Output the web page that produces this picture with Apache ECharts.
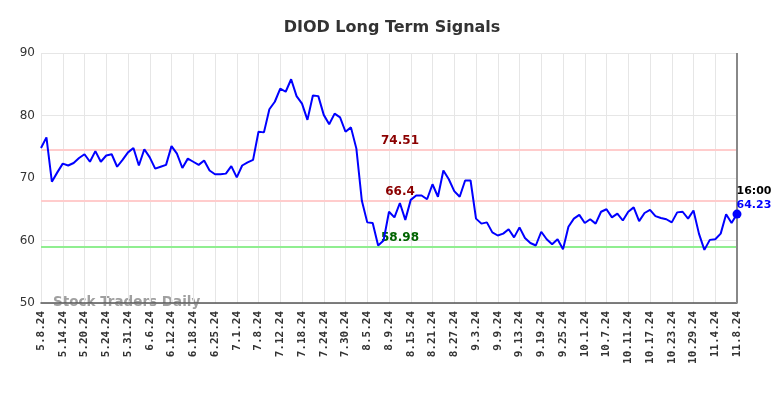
<!DOCTYPE html>
<html>
<head>
<meta charset="utf-8">
<script src="https://cdn.jsdelivr.net/npm/echarts@6/dist/echarts.min.js"></script>
<style>
  html, body { margin: 0; padding: 0; background: #fff; }
  #chart { width: 784px; height: 398px; }
</style>
</head>
<body>
<div id="chart"></div>
<script>
// tick labels, one every 4 trading days
const tickLabels = [
  '5.8.24', '5.14.24', '5.20.24', '5.24.24', '5.31.24', '6.6.24', '6.12.24', '6.18.24',
  '6.25.24', '7.1.24', '7.8.24', '7.12.24', '7.18.24', '7.24.24', '7.30.24', '8.5.24',
  '8.9.24', '8.15.24', '8.21.24', '8.27.24', '9.3.24', '9.9.24', '9.13.24', '9.19.24',
  '9.25.24', '10.1.24', '10.7.24', '10.11.24', '10.17.24', '10.23.24', '10.29.24', '11.4.24',
  '11.8.24'
];

// daily closes
const closes = [
  74.8, 76.5, 69.4, 70.9, 72.3, 72.0, 72.4, 73.2, 73.8, 72.6,
  74.3, 72.6, 73.6, 73.8, 71.8, 72.9, 74.1, 74.8, 72.0, 74.6,
  73.3, 71.5, 71.8, 72.1, 75.1, 73.9, 71.6, 73.1, 72.6, 72.1,
  72.8, 71.2, 70.6, 70.6, 70.7, 71.9, 70.1, 72.0, 72.5, 72.9,
  77.4, 77.3, 81.0, 82.2, 84.3, 83.8, 85.8, 83.1, 81.9, 79.3,
  83.2, 83.1, 80.1, 78.6, 80.3, 79.7, 77.4, 78.1, 74.7, 66.4,
  62.9, 62.8, 59.2, 60.0, 64.6, 63.7, 66.0, 63.3, 66.5, 67.2,
  67.2, 66.6, 69.0, 67.0, 71.2, 69.8, 67.9, 67.0, 69.6, 69.6,
  63.5, 62.7, 62.9, 61.3, 60.8, 61.1, 61.8, 60.5, 62.1, 60.4,
  59.6, 59.2, 61.4, 60.2, 59.4, 60.2, 58.6, 62.2, 63.5, 64.1,
  62.8, 63.4, 62.7, 64.6, 65.0, 63.7, 64.3, 63.2, 64.6, 65.3,
  63.1, 64.4, 64.9, 63.9, 63.6, 63.4, 62.9, 64.5, 64.6, 63.5,
  64.8, 61.1, 58.5, 60.1, 60.2, 61.1, 64.2, 62.8, 64.23
];

const resistance = [74.51, 66.4];
const support = [58.98];
const lastTime = '16:00';

const categories = closes.map((_, i) => String(i));
const lastIdx = closes.length - 1;

const chart = echarts.init(document.getElementById('chart'));

const levelLines = [
  ...resistance.map(v => ({
    yAxis: v,
    lineStyle: { color: '#ffcccc', width: 2, type: 'solid' },
    label: { color: '#8b0000' }
  })),
  ...support.map(v => ({
    yAxis: v,
    lineStyle: { color: '#90ee90', width: 2, type: 'solid' },
    label: { color: '#006400' }
  }))
];

chart.setOption({
  animation: false,
  backgroundColor: '#fff',
  title: {
    text: 'DIOD Long Term Signals',
    left: 'center',
    top: 15,
    textStyle: { fontFamily: 'DejaVu Sans', fontSize: 16, fontWeight: 'bold', color: '#333' }
  },
  grid: { left: 41, right: 47, top: 53, bottom: 95 },
  xAxis: {
    type: 'category',
    data: categories,
    boundaryGap: false,
    axisLine: { lineStyle: { color: '#555', width: 1.5 } },
    axisTick: { show: false },
    axisLabel: {
      interval: 3,
      rotate: 90,
      margin: 8,
      fontFamily: 'DejaVu Sans Mono',
      fontWeight: 'bold',
      fontSize: 11,
      color: '#333',
      formatter: (v, i) => tickLabels[i / 4] || ''
    },
    splitLine: { show: true, interval: 3, lineStyle: { color: '#e6e6e6', width: 1 } }
  },
  yAxis: {
    type: 'value',
    min: 50,
    max: 90,
    interval: 10,
    axisLine: { show: false },
    axisTick: { show: false },
    axisLabel: { fontFamily: 'DejaVu Sans', fontSize: 12, color: '#333', margin: 6 },
    splitLine: { lineStyle: { color: '#e6e6e6', width: 1 } }
  },
  graphic: [{
    type: 'text',
    left: 53,
    top: 295,
    style: {
      text: 'Stock Traders Daily',
      font: 'bold 13.5px "DejaVu Sans"',
      fill: '#a0a0a0'
    }
  }],
  series: [{
    type: 'line',
    data: closes,
    showSymbol: false,
    lineStyle: { color: '#0000ff', width: 2 },
    itemStyle: { color: '#0000ff' },
    z: 3,
    markLine: {
      silent: true,
      symbol: 'none',
      z: 1,
      label: {
        show: true,
        position: 'insideMiddleTop',
        distance: 3,
        offset: [11, 0],
        fontFamily: 'DejaVu Sans',
        fontWeight: 'bold',
        fontSize: 12,
        formatter: p => String(p.value)
      },
      data: [
        ...levelLines,
        {
          xAxis: categories[lastIdx],
          lineStyle: { color: '#888', width: 2, type: 'solid' },
          label: { show: false }
        }
      ]
    },
    markPoint: {
      silent: true,
      symbol: 'circle',
      symbolSize: 9,
      itemStyle: { color: '#0000ff' },
      label: {
        show: true,
        position: [4, -25],
        align: 'left',
        formatter: () => '{t|' + lastTime + '}\n{v|' + closes[lastIdx] + '}',
        rich: {
          t: { fontFamily: 'DejaVu Sans', fontWeight: 'bold', fontSize: 11, color: '#000', lineHeight: 14 },
          v: { fontFamily: 'DejaVu Sans', fontWeight: 'bold', fontSize: 11, color: '#0000ff', lineHeight: 14 }
        }
      },
      data: [{ coord: [categories[lastIdx], closes[lastIdx]] }]
    }
  }]
});
</script>
</body>
</html>
